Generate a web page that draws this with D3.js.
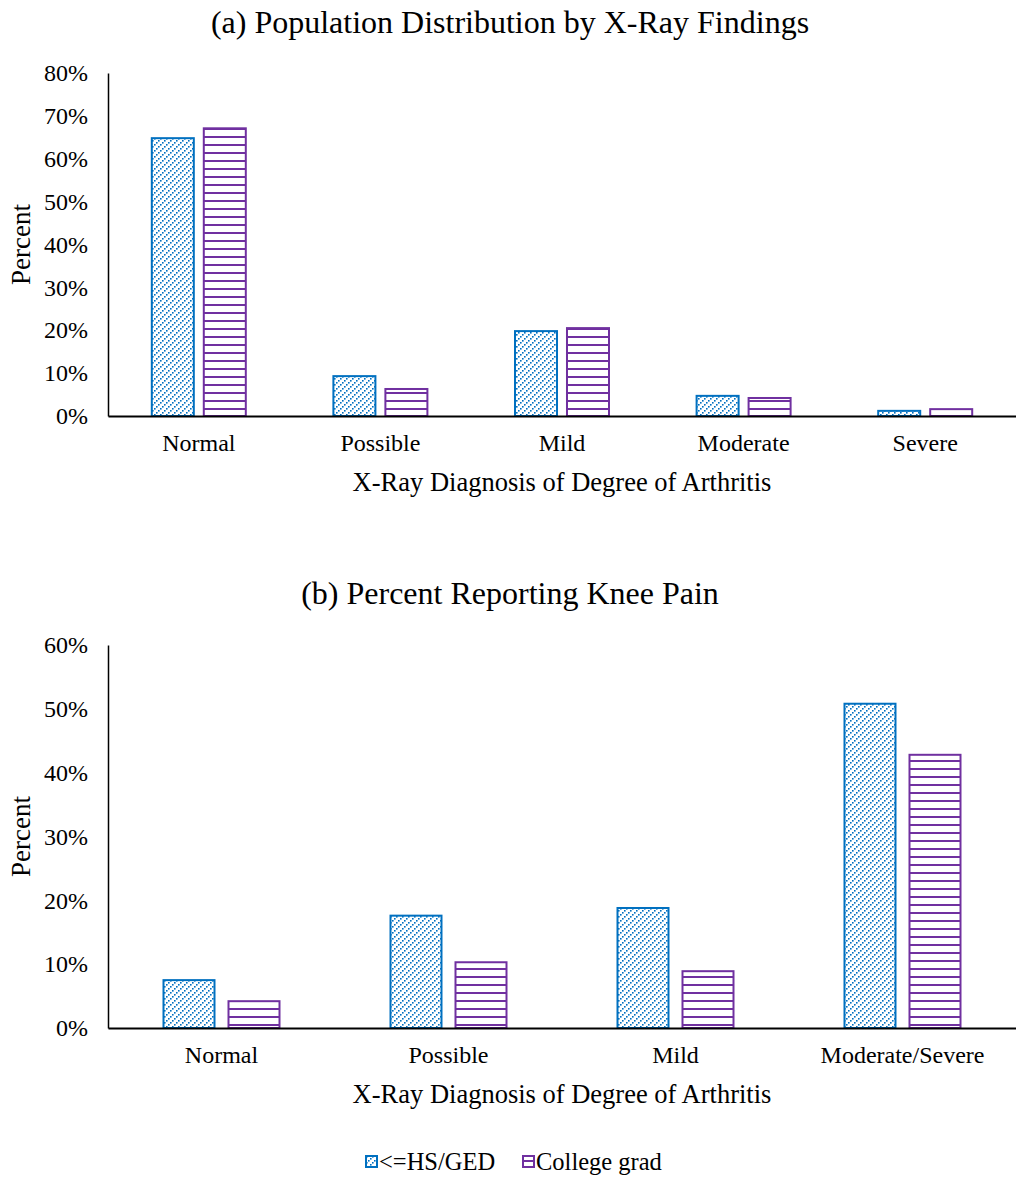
<!DOCTYPE html>
<html><head><meta charset="utf-8">
<script src="https://cdn.jsdelivr.net/npm/d3@7"></script>
<style>body{margin:0;background:#fff}svg{display:block}text{font-family:"Liberation Serif","Times New Roman",serif;fill:#000}</style>
</head><body>
<svg id="c" width="1016" height="1178"></svg>
<script>
const seriesNames = ["<=HS/GED", "College grad"];
const catsA = ["Normal", "Possible", "Mild", "Moderate", "Severe"];
const hsA = [64.8, 9.3, 19.8, 4.7, 1.2];
const colA = [67.1, 6.3, 20.5, 4.2, 1.6];
const ticksA = [0, 10, 20, 30, 40, 50, 60, 70, 80];
const catsB = ["Normal", "Possible", "Mild", "Moderate/Severe"];
const hsB = [7.5, 17.6, 18.8, 50.8];
const colB = [4.2, 10.3, 8.9, 42.8];
const ticksB = [0, 10, 20, 30, 40, 50, 60];

const svg = d3.select("#c");
const blue = "#0070C0", purple = "#7030A0";
const defs = svg.append("defs");
const pd = defs.append("pattern").attr("id","diag").attr("patternUnits","userSpaceOnUse").attr("width",6).attr("height",6);
pd.append("rect").attr("width",6).attr("height",6).attr("fill","#fff");
[[0,4],[2,2],[4,0]].forEach(p=>pd.append("rect").attr("x",p[0]).attr("y",p[1]).attr("width",1.6).attr("height",1.6).attr("fill",blue));
const ph = defs.append("pattern").attr("id","horiz").attr("patternUnits","userSpaceOnUse").attr("width",8).attr("height",8);
ph.append("rect").attr("width",8).attr("height",8).attr("fill","#fff");
ph.append("rect").attr("y",0).attr("width",8).attr("height",2).attr("fill",purple);
const fills = ["url(#diag)", "url(#horiz)"], strokes = [blue, purple];

function panel(o){
  const g = svg.append("g");
  const x = d3.scaleBand().domain(o.cats).range([o.x0, o.x1]);
  const y = d3.scaleLinear().domain([0, o.max]).range([o.yb, o.yt]);
  const inner = d3.scaleBand().domain([0,1]).range([0, o.grp]).paddingInner(o.pin);
  g.append("text").attr("x", 510).attr("y", o.titleY).attr("text-anchor","middle").attr("font-size",32).text(o.title);
  [o.a, o.b].forEach((vals, si) => {
    g.selectAll(null).data(vals).enter().append("rect")
      .attr("x",(d,i)=> x(o.cats[i]) + (x.bandwidth()-o.grp)/2 + inner(si))
      .attr("y", d=>y(d)).attr("width", inner.bandwidth()).attr("height", d=>y(0)-y(d))
      .attr("fill", fills[si]).attr("stroke", strokes[si]).attr("stroke-width", 2);
  });
  const ya = g.append("g").attr("transform",`translate(${o.x0},0)`)
    .call(d3.axisLeft(y).tickValues(o.ticks).tickSize(0).tickPadding(20).tickFormat(d=>d+"%"));
  ya.select(".domain").attr("stroke","#000").attr("stroke-width",1.5);
  ya.selectAll("text").attr("font-size",24);
  const xa = g.append("g").attr("transform",`translate(0,${o.yb})`)
    .call(d3.axisBottom(x).tickSize(0).tickPadding(18));
  xa.select(".domain").attr("stroke","#000").attr("stroke-width",2);
  xa.selectAll("text").attr("font-size",24);
  g.append("text").attr("x",(o.x0+o.x1)/2).attr("y",o.yb+75).attr("text-anchor","middle").attr("font-size",26.5).text("X-Ray Diagnosis of Degree of Arthritis");
  g.append("text").attr("transform",`translate(30,${(o.yt+o.yb)/2}) rotate(-90)`).attr("text-anchor","middle").attr("font-size",27).text("Percent");
}
panel({title:"(a) Population Distribution by X-Ray Findings", titleY:33, cats:catsA, a:hsA, b:colA, ticks:ticksA, max:80,
  x0:108, x1:1016, yt:73, yb:416, grp:94, pin:0.192});
panel({title:"(b) Percent Reporting Knee Pain", titleY:604, cats:catsB, a:hsB, b:colB, ticks:ticksB, max:60,
  x0:108, x1:1016, yt:645, yb:1028, grp:116, pin:0.2154});

const lg = svg.append("g");
const lx = [366, 523];
seriesNames.forEach((n,i)=>{
  lg.append("rect").attr("x",lx[i]).attr("y",1156).attr("width",11).attr("height",11)
    .attr("fill",fills[i]).attr("stroke",strokes[i]).attr("stroke-width",2);
  lg.append("text").attr("x",lx[i]+13).attr("y",1170).attr("font-size",24.5).text(n);
});
</script>
</body></html>
